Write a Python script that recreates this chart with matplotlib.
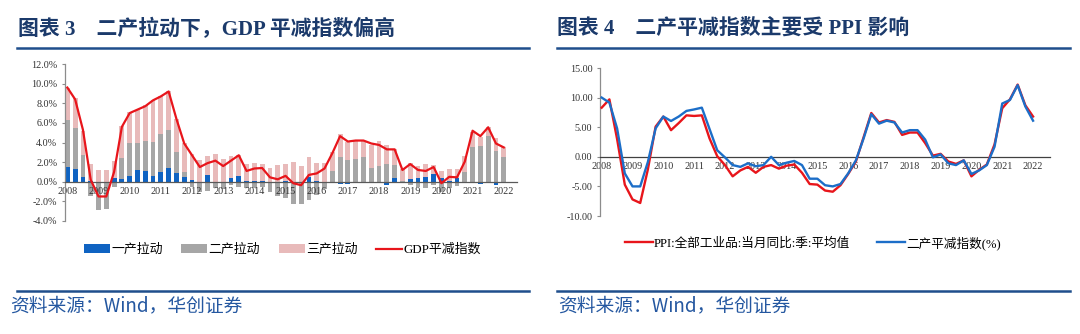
import matplotlib
matplotlib.use("Agg")
import matplotlib.pyplot as plt
import numpy as np
from matplotlib.lines import Line2D

plt.rcParams['font.family'] = ['Noto Sans CJK SC', 'DejaVu Sans']

# ---------------- data ----------------
years = ['2008', '2009', '2010', '2011', '2012', '2013', '2014', '2015',
         '2016', '2017', '2018', '2019', '2020', '2021', '2022']

# left chart: contributions (pct points) and GDP deflator (%)
primary = [1.55, 1.25, 0.45, 0.05, -0.05, -0.05, 0.35, 0.3, 0.6, 1.15, 1.05, 0.55, 1.0, 1.4,
           0.85, 0.5, 0.15, 0.0, 0.65, 0.0, 0.0, 0.4, 0.55, 0.05, 0.05, 0.05, 0.0, 0.0,
           0.05, 0.0, -0.05, 0.45, 0.1, 0.0, -0.1, -0.2, -0.2, -0.1, -0.1, -0.1, -0.1, -0.3,
           0.4, 0.0, 0.3, 0.35, 0.5, 0.75, 0.4, 0.1, 0.35, -0.1, -0.1, -0.25, -0.1, -0.35, -0.1]
secondary = [4.75, 4.25, 2.25, -1.5, -2.8, -2.75, -0.5, 2.1, 3.3, 2.85, 3.15, 3.5, 3.9, 3.9,
             2.2, 0.5, -0.5, -1.0, -0.9, -0.6, -0.7, -0.3, -0.5, -0.6, -0.6, -0.5, -1.0, -1.5,
             -1.7, -2.3, -2.2, -1.9, -1.4, -0.7, 1.1, 2.5, 2.2, 2.3, 2.5, 1.45, 1.6, 1.8,
             1.3, 0.1, -0.3, -0.5, -0.6, -0.3, -1.0, -0.6, -0.4, 1.0, 3.5, 3.65, 4.65, 3.1, 2.5]
tertiary = [3.3, 3.0, 2.5, 1.75, 1.2, 1.2, 1.75, 3.3, 3.2, 3.35, 3.6, 4.25, 3.8, 3.9,
            3.35, 2.9, 2.65, 2.2, 1.95, 2.8, 2.3, 2.2, 2.15, 1.8, 1.9, 1.8, 1.4, 1.7,
            1.8, 2.05, 1.6, 2.05, 1.85, 1.9, 1.95, 2.4, 1.9, 1.95, 1.7, 2.3, 2.6, 1.95,
            1.6, 1.2, 1.6, 1.25, 1.3, 0.95, 0.7, 1.25, 1.0, 1.6, 1.6, 0.95, 0.95, 1.4, 1.0]
gdp_deflator = [9.6, 8.4, 5.3, 0.2, -1.5, -1.5, 1.0, 5.6, 7.0, 7.35, 7.7, 8.3, 8.7, 9.2,
                6.4, 3.9, 2.7, 1.5, 1.9, 2.15, 1.6, 2.15, 2.7, 1.1, 1.35, 1.4, 0.45, 0.25,
                0.6, -0.15, -0.35, 0.7, 0.85, 1.35, 2.9, 4.65, 4.1, 4.2, 4.2, 3.9, 3.75, 3.3,
                3.3, 1.2, 1.8, 1.2, 1.1, 1.5, -0.15, 0.5, 0.45, 2.05, 5.2, 4.65, 5.55, 3.9, 3.5]

# right chart
ppi = [8.3, 9.7, 3.0, -4.7, -7.2, -7.8, -2.1, 5.1, 6.8, 4.5, 5.7, 7.0, 6.9, 7.0,
       3.1, 0.1, -1.4, -3.3, -2.3, -1.7, -2.7, -1.7, -1.4, -2.0, -1.5, -1.3, -2.7, -4.6,
       -4.7, -5.7, -5.9, -4.8, -2.9, -0.8, 3.3, 7.4, 5.8, 6.2, 5.9, 3.7, 4.1, 4.1,
       2.3, 0.2, 0.5, -0.8, -1.2, -0.6, -3.3, -2.2, -1.3, 2.1, 8.2, 9.7, 12.2, 8.7, 6.8]
secondary_deflator = [10.0, 9.15, 4.8, -2.8, -5.0, -5.0, -0.85, 4.8, 6.8, 6.05, 6.8, 7.75, 8.0, 8.3,
                      4.7, 1.1, -0.1, -1.4, -1.7, -1.1, -1.6, -1.4, 0.0, -1.4, -1.0, -0.7, -1.4, -3.7,
                      -3.7, -4.8, -5.0, -4.6, -2.8, -0.6, 3.1, 7.2, 5.6, 6.1, 5.8, 4.1, 4.5, 4.5,
                      2.9, -0.1, 0.4, -1.1, -1.4, -0.6, -2.9, -2.3, -1.4, 1.7, 9.0, 9.6, 12.1, 8.5, 6.1]

left_labels = ['一产拉动', '二产拉动', '三产拉动', 'GDP平减指数']
right_labels = ['PPI:全部工业品:当月同比:季:平均值', '二产平减指数(%)']

# ---------------- styling ----------------
W, H = 1080, 334
NAVY = '#1B3A6B'
RULE = '#1F4E8C'
C_BLUE = '#0F63C2'
C_GRAY = '#A6A6A6'
C_PINK = '#E8BABA'
C_RED = '#E8151B'
C_LBLUE = '#1C6EC8'
SERIF = ['Liberation Serif', 'Noto Sans CJK SC']
LEGF = ['Liberation Serif', 'Noto Sans CJK SC']

fig = plt.figure(figsize=(W / 100, H / 100), dpi=100)


def fx(x):
    return x / W


def fy(y):
    return 1 - y / H


# titles and rules
fig.text(fx(18), fy(29), '图表 3    二产拉动下，GDP 平减指数偏高', fontsize=15,
         fontweight='bold', color=NAVY, va='center', ha='left', family=SERIF)
fig.text(fx(557), fy(29), '图表 4    二产平减指数主要受 PPI 影响', fontsize=15,
         fontweight='bold', color=NAVY, va='center', ha='left', family=SERIF)
for x0, x1 in [(17, 529), (557, 1070)]:
    fig.add_artist(Line2D([fx(x0), fx(x1)], [fy(47.5), fy(47.5)], color=RULE, lw=1.8))
    fig.add_artist(Line2D([fx(x0), fx(x1)], [fy(290.5), fy(290.5)], color=RULE, lw=1.8))
for x0 in (10, 558):
    fig.text(fx(x0), fy(306), '资料来源：Wind，华创证券', fontsize=13.5, color='#2457A0',
             va='center', ha='left', family=['Noto Sans CJK SC', 'DejaVu Sans'])

tick_font = {'family': 'Liberation Serif', 'size': 7.3}


def style_axis(ax, zero_color):
    for s in ['top', 'right']:
        ax.spines[s].set_visible(False)
    ax.spines['bottom'].set_position(('data', 0))
    ax.spines['left'].set_color('#8C8C8C')
    ax.spines['left'].set_linewidth(0.9)
    ax.spines['bottom'].set_color(zero_color)
    ax.spines['bottom'].set_linewidth(0.9)
    ax.set_facecolor('none')


# ---------------- left chart ----------------
n = len(gdp_deflator)
x = np.arange(n)
axL = fig.add_axes([fx(65), fy(221), (517 - 65) / W, (221 - 64) / H])
style_axis(axL, '#595959')
pos_base = np.zeros(n)
neg_base = np.zeros(n)
handles = []
for vals, col, lab in [(primary, C_BLUE, left_labels[0]),
                       (secondary, C_GRAY, left_labels[1]),
                       (tertiary, C_PINK, left_labels[2])]:
    v = np.array(vals)
    bottom = np.where(v >= 0, pos_base, neg_base)
    h = axL.bar(x, v, bottom=bottom, width=0.62, color=col, label=lab, zorder=1)
    handles.append(h)
    pos_base = pos_base + np.where(v >= 0, v, 0)
    neg_base = neg_base + np.where(v < 0, v, 0)
ln, = axL.plot(x, gdp_deflator, color=C_RED, lw=1.6, label=left_labels[3], zorder=3)
handles.append(ln)

axL.set_xlim(-0.3, 57.7)
axL.set_ylim(-4, 12)
yt = np.arange(-4, 12.1, 2)
axL.set_yticks(yt)
axL.set_yticklabels([f'{v:.1f}%' for v in yt], fontdict=tick_font)
axL.set_xticks(np.arange(0, n, 4))
axL.set_xticklabels(years, fontdict=tick_font)
axL.tick_params(axis='y', length=2.5, width=0.8, color='#8C8C8C', pad=3, labelcolor='#333333')
axL.tick_params(axis='x', length=0, pad=4, labelcolor='#333333')

fig.legend(handles=handles, labels=left_labels, loc='center left',
           bbox_to_anchor=(fx(84), fy(250)), ncol=4, frameon=False,
           prop={'family': LEGF, 'size': 9.3}, handlelength=2.0, handleheight=0.65,
           handletextpad=0.1, columnspacing=1.45, borderaxespad=0, borderpad=0)

# ---------------- right chart ----------------
axR = fig.add_axes([fx(600), fy(216), (1050 - 600) / W, (216 - 68) / H])
style_axis(axR, '#404040')
l1, = axR.plot(x, ppi, color=C_RED, lw=1.7, label=right_labels[0], zorder=3)
l2, = axR.plot(x, secondary_deflator, color=C_LBLUE, lw=1.7, label=right_labels[1], zorder=4)
axR.set_xlim(-0.22, 58.2)
axR.set_ylim(-10, 15)
yr = np.arange(-10, 15.1, 5)
axR.set_yticks(yr)
axR.set_yticklabels([f'{v:.2f}' for v in yr], fontdict=tick_font)
axR.set_xticks(np.arange(0, n, 4))
axR.set_xticklabels(years, fontdict=tick_font)
axR.tick_params(axis='y', length=2.5, width=0.8, color='#8C8C8C', pad=3, labelcolor='#333333')
axR.tick_params(axis='x', length=0, pad=4, labelcolor='#333333')

fig.legend(handles=[l1, l2], labels=right_labels, loc='center left',
           bbox_to_anchor=(fx(625), fy(243)), ncol=2, frameon=False,
           prop={'family': LEGF, 'size': 9.1}, handlelength=2.2, handletextpad=0.1,
           columnspacing=2.1, borderaxespad=0, borderpad=0)

fig.savefig('out.png', dpi=100)
